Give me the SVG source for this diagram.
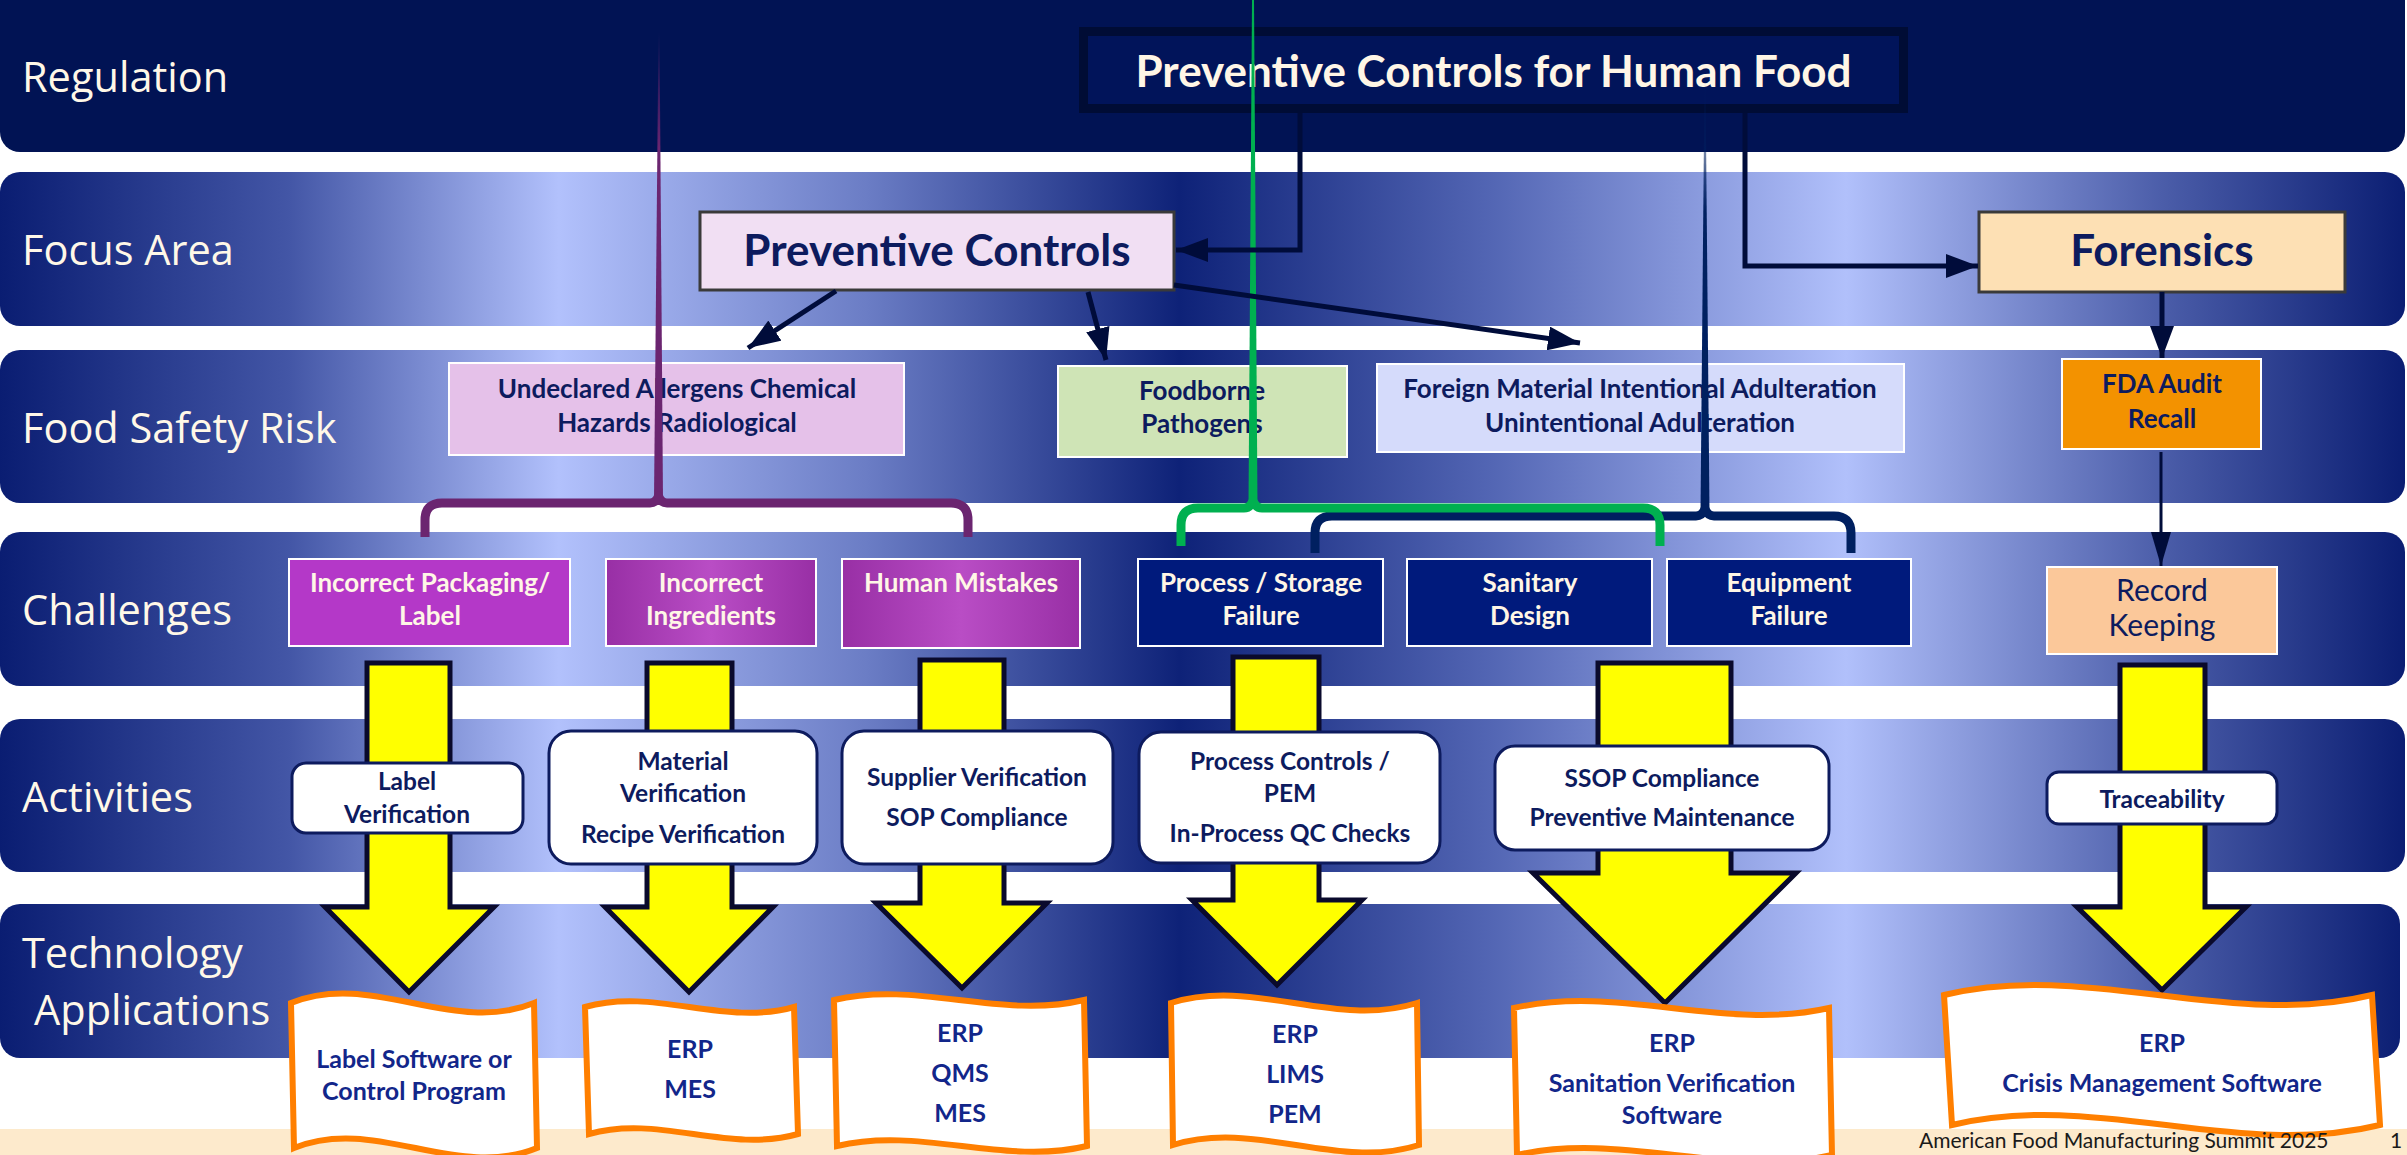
<svg xmlns="http://www.w3.org/2000/svg" width="2407" height="1155" viewBox="0 0 2407 1155">
<defs>
<style>
.bl{font-family:"Open Sans","DejaVu Sans",sans-serif;font-size:41.5px;fill:#fff8e8}
.t{font-family:Lato,"Open Sans",sans-serif;font-weight:700;text-anchor:middle;fill:#0d1b5e}
.big{font-size:44px}
.mid{font-size:26px}
.act{font-size:24.5px}
.doc{font-size:25px;fill:#12268a}
.lt{fill:#fff6e6}
.rec{font-size:30px;font-weight:400}
.riskbox{stroke:#ffffff;stroke-width:2}
.chal{stroke:#ffffff;stroke-width:2}
.actbox{fill:#ffffff;stroke:#0d1b5e;stroke-width:3}
.docs{fill:#ffffff;stroke:#ff7f00;stroke-width:6;stroke-linejoin:miter}
.ya{fill:#ffff00;stroke:#0a0a2c;stroke-width:5;stroke-linejoin:miter}
.ln{fill:none;stroke:#000c3a;stroke-width:5}
.br{fill:none;stroke-width:9;stroke-linejoin:round}
.ft{font-family:Lato,"Open Sans",sans-serif;font-size:21px;fill:#1a1a1a}
</style>
<linearGradient id="bandGrad" gradientUnits="userSpaceOnUse" x1="0" y1="0" x2="2407" y2="0">
<stop offset="0" stop-color="#0a1d72"/>
<stop offset="0.12" stop-color="#4356a6"/>
<stop offset="0.232" stop-color="#b2c1fc"/>
<stop offset="0.36" stop-color="#6b7dc5"/>
<stop offset="0.49" stop-color="#0e2278"/>
<stop offset="0.62" stop-color="#5366b4"/>
<stop offset="0.767" stop-color="#b1c0fb"/>
<stop offset="0.9" stop-color="#4a5ca8"/>
<stop offset="1" stop-color="#0a1d72"/>
</linearGradient>
<linearGradient id="purpGrad" x1="0" y1="0" x2="1" y2="0">
<stop offset="0" stop-color="#982fa5"/>
<stop offset="0.5" stop-color="#b94dc5"/>
<stop offset="1" stop-color="#982fa5"/>
</linearGradient>
<linearGradient id="fadeP" gradientUnits="userSpaceOnUse" x1="0" y1="32" x2="0" y2="500">
<stop offset="0" stop-color="#6b2570" stop-opacity="0"/>
<stop offset="0.25" stop-color="#6b2570" stop-opacity="1"/>
<stop offset="1" stop-color="#6b2570"/>
</linearGradient>
<linearGradient id="fadeN" gradientUnits="userSpaceOnUse" x1="0" y1="80" x2="0" y2="516">
<stop offset="0" stop-color="#002060" stop-opacity="0"/>
<stop offset="0.3" stop-color="#002060" stop-opacity="1"/>
<stop offset="1" stop-color="#002060"/>
</linearGradient>
<marker id="ah" markerUnits="userSpaceOnUse" markerWidth="32" markerHeight="24" refX="32" refY="12" orient="auto">
<path d="M0,0 L32,12 L0,24 Z" fill="#000c3a"/>
</marker>
<marker id="ahs" markerUnits="userSpaceOnUse" markerWidth="34" markerHeight="20" refX="34" refY="10" orient="auto">
<path d="M0,0 L34,10 L0,20 Z" fill="#000c3a"/>
</marker>
</defs>

<rect width="2407" height="1155" fill="#ffffff"/>
<rect x="0" y="1129" width="2407" height="26" fill="#fdeacc"/>

<g id="bands">
<rect x="0" y="-20" width="2405" height="172" rx="20" fill="#011354"/>
<rect x="0" y="172" width="2405" height="154" rx="20" fill="url(#bandGrad)"/>
<rect x="0" y="350" width="2405" height="153" rx="20" fill="url(#bandGrad)"/>
<rect x="0" y="532" width="2405" height="154" rx="20" fill="url(#bandGrad)"/>
<rect x="0" y="719" width="2405" height="153" rx="20" fill="url(#bandGrad)"/>
<rect x="0" y="904" width="2400" height="154" rx="20" fill="url(#bandGrad)"/>
<text class="bl" x="22" y="92">Regulation</text>
<text class="bl" x="22" y="265">Focus Area</text>
<text class="bl" x="22" y="443">Food Safety Risk</text>
<text class="bl" x="22" y="625">Challenges</text>
<text class="bl" x="22" y="812">Activities</text>
<text class="bl" x="22" y="968">Technology</text>
<text class="bl" x="34" y="1025">Applications</text>
</g>

<g id="flow-arrows">
<polygon class="ya" points="367,663 450,663 450,907 494,907 409,992 325,907 367,907"/>
<polygon class="ya" points="647,663 732,663 732,907 773,907 689,992 605,907 647,907"/>
<polygon class="ya" points="920,660 1004,660 1004,903 1047,903 962,988 876,903 920,903"/>
<polygon class="ya" points="1233,657 1319,657 1319,900 1362,900 1277,985 1192,900 1233,900"/>
<polygon class="ya" points="1598,663 1731,663 1731,873 1796,873 1665,1003 1533,873 1598,873"/>
<polygon class="ya" points="2120,665 2205,665 2205,907 2246,907 2162,990 2077,907 2120,907"/>
</g>

<g id="node-regulation">
<rect x="1083.5" y="31.5" width="820" height="77" fill="#01145a" stroke="#000c35" stroke-width="9"/>
<text class="t lt" x="1493.5" y="87" font-size="44" style="font-size:44px">Preventive Controls for Human Food</text>
</g>

<g id="node-preventive-controls">
<rect x="700" y="212" width="474" height="78" fill="#f1dff3" stroke="#3a3a3a" stroke-width="3"/>
<text class="t big" x="937" y="266">Preventive Controls</text>
</g>
<g id="node-forensics">
<rect x="1979" y="212" width="366" height="80" fill="#fde0b4" stroke="#3a3a3a" stroke-width="3"/>
<text class="t big" x="2162" y="266">Forensics</text>
</g>

<g id="node-allergens">
<rect class="riskbox" x="449" y="363" width="455" height="92" fill="#e5c1e9"/>
<text class="t mid" x="677" y="398">Undeclared Allergens Chemical</text>
<text class="t mid" x="677" y="432">Hazards Radiological</text>
</g>
<g id="node-pathogens">
<rect class="riskbox" x="1058" y="366" width="289" height="91" fill="#cfe4b6"/>
<text class="t mid" x="1202" y="400">Foodborne</text>
<text class="t mid" x="1202" y="433">Pathogens</text>
</g>
<g id="node-adulteration">
<rect class="riskbox" x="1377" y="364" width="527" height="88" fill="#d5dbfb"/>
<text class="t mid" x="1640" y="398">Foreign Material Intentional Adulteration</text>
<text class="t mid" x="1640" y="432">Unintentional Adulteration</text>
</g>
<g id="node-fda">
<rect class="riskbox" x="2062" y="359" width="199" height="90" fill="#f39200"/>
<text class="t mid" x="2162" y="393">FDA Audit</text>
<text class="t mid" x="2162" y="428">Recall</text>
</g>

<g id="node-packaging">
<rect class="chal" x="289" y="559" width="281" height="87" fill="#b438c8"/>
<text class="t mid lt" x="430" y="592">Incorrect Packaging/</text>
<text class="t mid lt" x="430" y="625">Label</text>
</g>
<g id="node-ingredients">
<rect class="chal" x="606" y="559" width="210" height="87" fill="url(#purpGrad)"/>
<text class="t mid lt" x="711" y="592">Incorrect</text>
<text class="t mid lt" x="711" y="625">Ingredients</text>
</g>
<g id="node-human">
<rect class="chal" x="842" y="559" width="238" height="89" fill="url(#purpGrad)"/>
<text class="t mid lt" x="961" y="592">Human Mistakes</text>
</g>
<g id="node-process-failure">
<rect class="chal" x="1138" y="559" width="245" height="87" fill="#001a7c"/>
<text class="t mid lt" x="1261" y="592">Process / Storage</text>
<text class="t mid lt" x="1261" y="625">Failure</text>
</g>
<g id="node-sanitary">
<rect class="chal" x="1407" y="559" width="245" height="87" fill="#001a7c"/>
<text class="t mid lt" x="1530" y="592">Sanitary</text>
<text class="t mid lt" x="1530" y="625">Design</text>
</g>
<g id="node-equipment">
<rect class="chal" x="1667" y="559" width="244" height="87" fill="#001a7c"/>
<text class="t mid lt" x="1789" y="592">Equipment</text>
<text class="t mid lt" x="1789" y="625">Failure</text>
</g>
<g id="node-record">
<rect class="chal" x="2047" y="567" width="230" height="87" fill="#fbc89a"/>
<text class="t rec" x="2162" y="601">Record</text>
<text class="t rec" x="2162" y="636">Keeping</text>
</g>

<g id="node-label-verification">
<rect class="actbox" x="292" y="763" width="231" height="70" rx="14"/>
<text class="t act" x="407" y="790">Label</text>
<text class="t act" x="407" y="823">Verification</text>
</g>
<g id="node-material-verification">
<rect class="actbox" x="549" y="731" width="268" height="133" rx="22"/>
<text class="t act" x="683" y="770">Material</text>
<text class="t act" x="683" y="802">Verification</text>
<text class="t act" x="683" y="843">Recipe Verification</text>
</g>
<g id="node-supplier-verification">
<rect class="actbox" x="842" y="731" width="271" height="133" rx="22"/>
<text class="t act" x="977" y="786">Supplier Verification</text>
<text class="t act" x="977" y="826">SOP Compliance</text>
</g>
<g id="node-process-controls">
<rect class="actbox" x="1139" y="732" width="301" height="131" rx="22"/>
<text class="t act" x="1290" y="770">Process Controls /</text>
<text class="t act" x="1290" y="802">PEM</text>
<text class="t act" x="1290" y="842">In-Process QC Checks</text>
</g>
<g id="node-ssop">
<rect class="actbox" x="1495" y="746" width="334" height="104" rx="20"/>
<text class="t act" x="1662" y="787">SSOP Compliance</text>
<text class="t act" x="1662" y="826">Preventive Maintenance</text>
</g>
<g id="node-traceability">
<rect class="actbox" x="2047" y="772" width="230" height="52" rx="12"/>
<text class="t act" x="2162" y="808">Traceability</text>
</g>

<g id="node-doc-label">
<path class="docs" d="M291,1003 C372,970 453,1036 534,1003 L537,1148 C456,1181 375,1115 294,1148 Z"/>
<text class="t doc" x="414" y="1068">Label Software or</text>
<text class="t doc" x="414" y="1100">Control Program</text>
</g>
<g id="node-doc-erp-mes">
<path class="docs" d="M585,1007 C655,987 724,1027 794,1007 L798,1134 C728,1154 659,1114 589,1134 Z"/>
<text class="t doc" x="690" y="1058">ERP</text>
<text class="t doc" x="690" y="1098">MES</text>
</g>
<g id="node-doc-erp-qms">
<path class="docs" d="M834,1000 C917,980 1001,1020 1084,1000 L1087,1146 C1004,1166 920,1126 837,1146 Z"/>
<text class="t doc" x="960" y="1042">ERP</text>
<text class="t doc" x="960" y="1082">QMS</text>
<text class="t doc" x="960" y="1122">MES</text>
</g>
<g id="node-doc-erp-lims">
<path class="docs" d="M1171,1003 C1253,977 1335,1029 1417,1003 L1419,1145 C1337,1171 1255,1119 1173,1145 Z"/>
<text class="t doc" x="1295" y="1043">ERP</text>
<text class="t doc" x="1295" y="1083">LIMS</text>
<text class="t doc" x="1295" y="1123">PEM</text>
</g>
<g id="node-doc-sanitation">
<path class="docs" d="M1514,1008 C1619,984 1724,1032 1829,1008 L1832,1155 C1727,1179 1622,1131 1517,1155 Z"/>
<text class="t doc" x="1672" y="1052">ERP</text>
<text class="t doc" x="1672" y="1092">Sanitation Verification</text>
<text class="t doc" x="1672" y="1124">Software</text>
</g>
<g id="node-doc-crisis">
<path class="docs" d="M1944,995 C2087,960 2229,1030 2372,995 L2380,1125 C2237,1160 2095,1090 1952,1125 Z"/>
<text class="t doc" x="2162" y="1052">ERP</text>
<text class="t doc" x="2162" y="1092">Crisis Management Software</text>
</g>

<g id="connectors">
<polygon points="658.5,32 659.5,32 663,500 654,500" fill="url(#fadeP)"/>
<polygon points="1252,0 1254,0 1257.5,505 1248.5,505" fill="#00b050"/>
<polygon points="1704.5,80 1705.5,80 1709.5,512 1700.5,512" fill="url(#fadeN)"/>
<path class="br" stroke="#002060" d="M1315,553 L1315,533 Q1315,516 1332,516 L1696,516 Q1702,516 1705,509 Q1708,516 1714,516 L1834,516 Q1851,516 1851,533 L1851,553"/>
<path class="br" stroke="#00b050" d="M1181,546 L1181,525 Q1181,508 1198,508 L1244,508 Q1250,508 1253,501 Q1256,508 1262,508 L1643,508 Q1660,508 1660,525 L1660,546"/>
<path class="br" stroke="#6b2570" d="M425,537 L425,520 Q425,503 442,503 L650,503 Q656,503 658.5,496 Q661,503 667,503 L951,503 Q968,503 968,520 L968,537"/>
<polyline class="ln" points="1300,113 1300,250 1176,250" marker-end="url(#ah)"/>
<polyline class="ln" points="1745,113 1745,266 1978,266" marker-end="url(#ah)"/>
<line class="ln" x1="836" y1="291" x2="748" y2="348" marker-end="url(#ah)"/>
<line class="ln" x1="1088" y1="292" x2="1106" y2="360" marker-end="url(#ah)"/>
<line class="ln" x1="1174" y1="285" x2="1580" y2="343" marker-end="url(#ah)"/>
<line class="ln" x1="2162" y1="292" x2="2162" y2="358" marker-end="url(#ah)"/>
<line class="ln" x1="2161" y1="452" x2="2161" y2="566" style="stroke-width:3" marker-end="url(#ahs)"/>
</g>

<text class="ft" x="1919" y="1148">American Food Manufacturing Summit 2025</text>
<text class="ft" x="2390" y="1148">1</text>
</svg>
